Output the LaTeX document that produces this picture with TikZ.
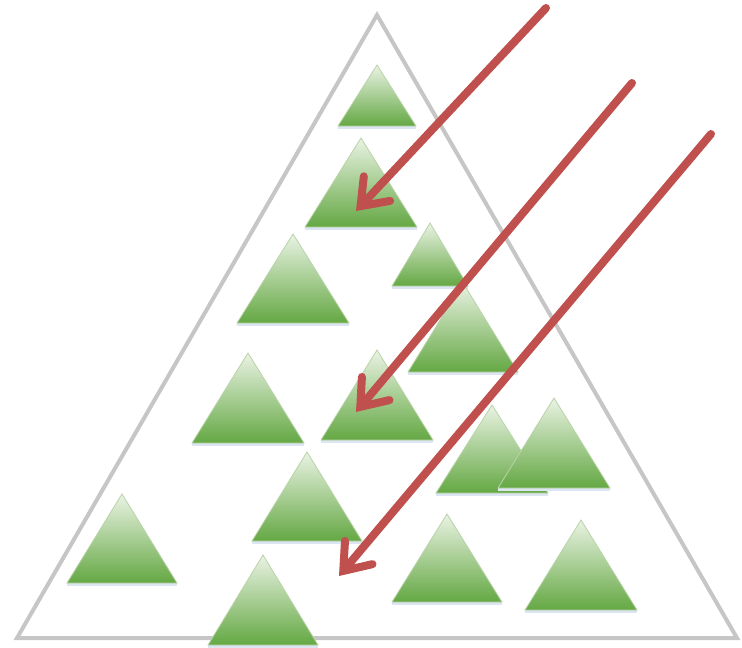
\documentclass[tikz,border=0pt]{standalone}
\usepackage{tikz}
\usetikzlibrary{arrows.meta,calc}
\definecolor{frame}  {HTML}{C6C6C6}
\definecolor{leaf}   {HTML}{64A843}
\definecolor{leafmid}{HTML}{AED294}
\definecolor{leaftop}{HTML}{EAF3E4}
\definecolor{leafrim}{HTML}{B9D3A8}
\definecolor{ray}    {HTML}{C0504D}
\definecolor{haze}   {HTML}{DCE6F2}
\tikzset{
  % --- shapes
  outer/.style = {draw=frame, line width=4pt, line join=miter, fill=white},
  tri/.style   = {top color=leaftop, middle color=leafmid, bottom color=leaf,
                  draw=leafrim, line width=0.8pt},
  foot/.style  = {fill=haze, draw=none},
  % --- arrows
  beam/.style  = {draw=ray, line width=8pt, line cap=round,
                  -{Straight Barb[length=24pt,width=36pt,line cap=round]}},
}
\begin{document}
\begin{tikzpicture}[x=1pt,y=-1pt]
  \useasboundingbox (0,0) rectangle (742,648);
  % big triangle
  \draw[outer] (17,638) -- (377,15) -- (737,638) -- cycle;
  % small triangles: apex x / apex y / base y / half width
  \foreach \ax/\ay/\by/\hw in {
      377/65/126/39, 361/138/227/56, 430/223/286/38, 293/234/323/56,
      463/283/372/55, 248/353/443/56, 377/350/440/56, 307/452/541/55,
      492/405/493/56, 554/398/488/56, 122/494/583/55, 447/514/602/55,
      581/520/610/56, 263/555/645/55}{
    \fill[foot] (\ax-\hw,\by) -- (\ax+\hw,\by) -- (\ax+\hw,\by+3) -- (\ax-\hw,\by+3) -- cycle;
    \shade[tri] (\ax-\hw,\by) -- (\ax,\ay) -- (\ax+\hw,\by) -- cycle;
  }
  % rays
  \coordinate (s1) at (546,8);   \coordinate (t1) at (356,211);
  \coordinate (s2) at (632,83);  \coordinate (t2) at (356,412);
  \coordinate (s3) at (711,134); \coordinate (t3) at (339,576);
  \draw[beam] (s1) -- (t1);
  \draw[beam] (s2) -- (t2);
  \draw[beam] (s3) -- (t3);
\end{tikzpicture}
\end{document}
